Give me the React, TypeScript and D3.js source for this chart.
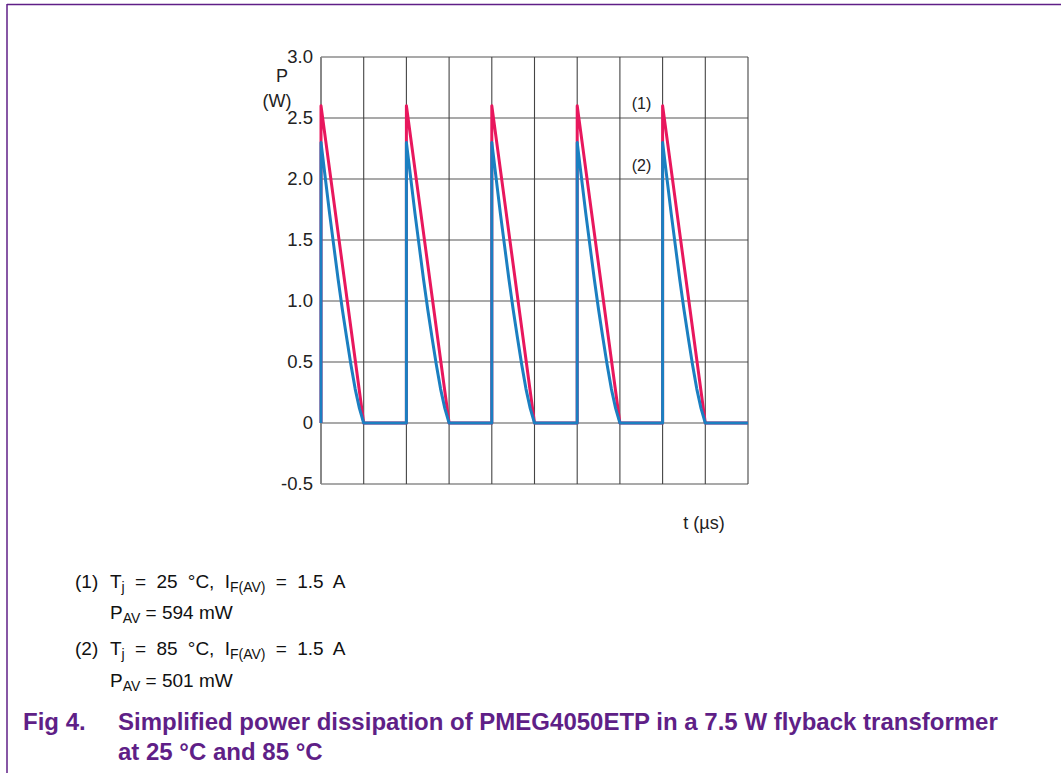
import React from "react";
import { scaleLinear, line, range } from "d3";

// chart values
const yTicks = [-0.5, 0, 0.5, 1.0, 1.5, 2.0, 2.5, 3.0];
const yTickLabels = ["-0.5", "0", "0.5", "1.0", "1.5", "2.0", "2.5", "3.0"];
const xGrid = range(0, 11); // 10 divisions, no labels on t axis
const pulseStarts = [0, 2, 4, 6, 8];
const pulseLength = 2;
// (1) Tj = 25 °C : straight fall
const shape1T = [0, 1];
const shape1P = [2.6, 0];
// (2) Tj = 85 °C : slightly curved fall
const shape2T = [0, 0.1, 0.2, 0.3, 0.4, 0.5, 0.6, 0.7, 0.8, 0.9, 1.0];
const shape2P = [2.3, 2.01, 1.72, 1.45, 1.18, 0.93, 0.7, 0.48, 0.28, 0.12, 0];

const seriesLabels = ["(1)", "(2)"];
const seriesLabelValues = [2.62, 2.11];

const W = 1061;
const H = 773;
const purple = "#5f1f87";
const red = "#e8175d";
const blue = "#1b7fc1";

function buildWave(ts: number[], ps: number[]): [number, number][] {
  const pts: [number, number][] = [];
  pulseStarts.forEach((t0) => {
    pts.push([t0, 0]);
    ts.forEach((t, i) => pts.push([t0 + t, ps[i]]));
    pts.push([t0 + pulseLength, 0]);
  });
  return pts;
}

const PowerChart = () => {
  const left = 321;
  const right = 748;
  const top = 57;
  const bottom = 484;

  const x = scaleLinear().domain([0, 10]).range([left, right]);
  const y = scaleLinear().domain([-0.5, 3.0]).range([bottom, top]);

  const path = line<[number, number]>()
    .x((d) => x(d[0]))
    .y((d) => y(d[1]));

  const wave1 = buildWave(shape1T, shape1P);
  const wave2 = buildWave(shape2T, shape2P);

  const font = "'Liberation Sans', Arial, sans-serif";

  return (
    <svg
      width={W}
      height={H}
      viewBox={`0 0 ${W} ${H}`}
      style={{ position: "absolute", left: 0, top: 0, background: "#fff" }}
      fontFamily={font}
    >
      {/* page frame */}
      <line x1={7} x2={W} y1={4.5} y2={4.5} stroke={purple} strokeWidth={1.5} />
      <line x1={7} x2={7} y1={4} y2={H} stroke={purple} strokeWidth={1.5} />

      {/* grid */}
      {yTicks.map((v) => (
        <line key={"h" + v} x1={left} x2={right} y1={y(v)} y2={y(v)} stroke="#555" strokeWidth={1.1} />
      ))}
      {xGrid.map((t) => (
        <line
          key={"v" + t}
          x1={x(t)}
          x2={x(t)}
          y1={top}
          y2={bottom}
          stroke={t === 0 ? "#888" : "#444"}
          strokeWidth={t === 0 ? 2 : 1.1}
        />
      ))}

      {/* y tick labels */}
      {yTicks.map((v, i) => (
        <text key={"yl" + v} x={left - 8} y={y(v)} dy="0.35em" textAnchor="end" fontSize={18.5} fill="#222">
          {yTickLabels[i]}
        </text>
      ))}
      <text x={282} y={82} textAnchor="middle" fontSize={18} fill="#222">P</text>
      <text x={277} y={107} textAnchor="middle" fontSize={18} fill="#222">(W)</text>
      <text x={704} y={529} textAnchor="middle" fontSize={18} fill="#222">t (µs)</text>

      {/* curves */}
      <path d={path(wave1) || ""} fill="none" stroke={red} strokeWidth={3} strokeLinejoin="round" />
      <path d={path(wave2) || ""} fill="none" stroke={blue} strokeWidth={3} strokeLinejoin="round" />

      {seriesLabels.map((s, i) => (
        <text key={s} x={641.5} y={y(seriesLabelValues[i])} dy="0.35em" textAnchor="middle" fontSize={16} fill="#222">
          {s}
        </text>
      ))}

      {/* legend */}
      <g fontSize={19} fill="#111">
        <text x={75} y={588}>(1)</text>
        <text x={110} y={588} wordSpacing={5}>
          T<tspan fontSize={14} dy={4}>j</tspan>
          <tspan dy={-4}> = 25 °C, I</tspan>
          <tspan fontSize={14} dy={4}>F(AV)</tspan>
          <tspan dy={-4}> = 1.5 A</tspan>
        </text>
        <text x={110} y={619}>
          P<tspan fontSize={14} dy={4}>AV</tspan>
          <tspan dy={-4}> = 594 mW</tspan>
        </text>
        <text x={75} y={655}>(2)</text>
        <text x={110} y={655} wordSpacing={5}>
          T<tspan fontSize={14} dy={4}>j</tspan>
          <tspan dy={-4}> = 85 °C, I</tspan>
          <tspan fontSize={14} dy={4}>F(AV)</tspan>
          <tspan dy={-4}> = 1.5 A</tspan>
        </text>
        <text x={110} y={687}>
          P<tspan fontSize={14} dy={4}>AV</tspan>
          <tspan dy={-4}> = 501 mW</tspan>
        </text>
      </g>

      {/* caption */}
      <g fontSize={24} fontWeight="bold" fill={purple}>
        <text x={23} y={730}>Fig 4.</text>
        <text x={118} y={730}>Simplified power dissipation of PMEG4050ETP in a 7.5 W flyback transformer</text>
        <text x={118} y={760}>at 25 °C and 85 °C</text>
      </g>
    </svg>
  );
};

export default function App() {
  return <PowerChart />;
}
